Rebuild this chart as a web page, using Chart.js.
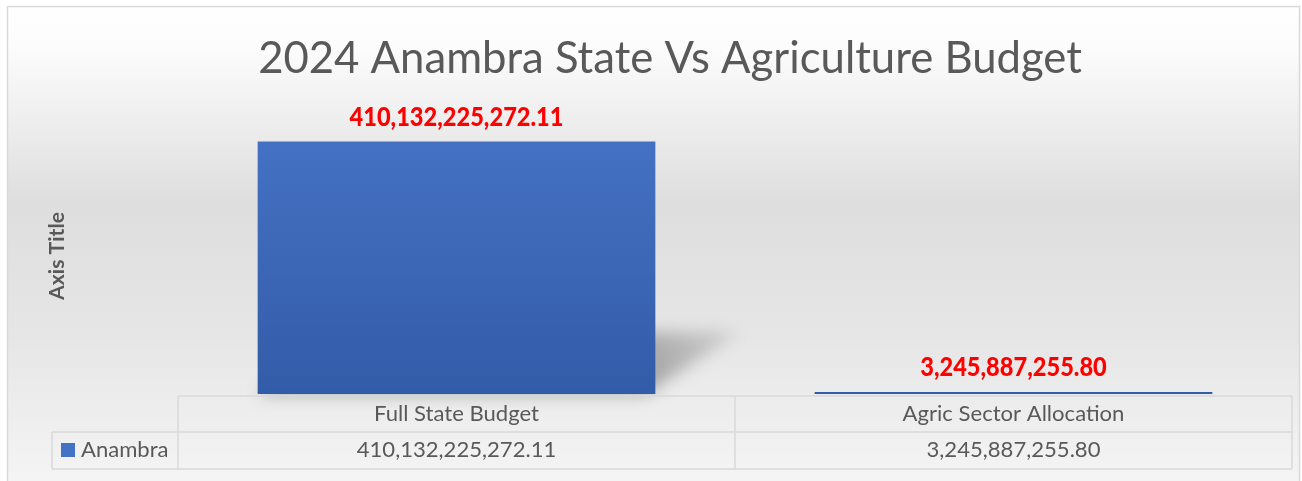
<!DOCTYPE html>
<html><head><meta charset="utf-8">
<script src="https://cdn.jsdelivr.net/npm/chart.js@4/dist/chart.umd.min.js"></script>
<style>html,body{margin:0;padding:0;background:#fff;}#wrap{width:1302px;height:481px;position:relative;}</style>
</head><body><div id="wrap"><canvas id="c" width="1302" height="481"></canvas></div>
<script>
const categories = ["Full State Budget", "Agric Sector Allocation"];
const seriesName = "Anambra";
const anambraValues = [410132225272.11, 3245887255.80];
const valueLabels = ["410,132,225,272.11", "3,245,887,255.80"];
const chartTitle = "2024 Anambra State Vs Agriculture Budget";
const yAxisTitle = "Axis Title";

const FONT = "Lato, 'Noto Sans', sans-serif";
function fitFont(ctx, text, width, weight) {
  let size = 20;
  ctx.font = weight + " " + size + "px " + FONT;
  const w = ctx.measureText(text).width;
  size = size * width / w;
  return weight + " " + size.toFixed(2) + "px " + FONT;
}

const decor = {
  id: "decor",
  beforeDraw(chart) {
    const ctx = chart.ctx;
    const H = chart.height, W = chart.width;
    const g = ctx.createLinearGradient(0, 0, 0, H);
    g.addColorStop(0, "#ffffff");
    g.addColorStop(0.1, "#fcfcfc");
    g.addColorStop(0.42, "#dedede");
    g.addColorStop(0.7, "#e6e6e6");
    g.addColorStop(1, "#f4f4f4");
    ctx.save();
    ctx.fillStyle = "#ffffff";
    ctx.fillRect(0, 0, W, H);
    ctx.fillStyle = g;
    ctx.fillRect(7, 6, W - 9, H - 6);
    ctx.strokeStyle = "#d9d9d9";
    ctx.lineWidth = 1.5;
    ctx.strokeRect(7.5, 6.5, W - 10, H + 10);
    ctx.restore();
  },
  beforeDatasetsDraw(chart) {
    const ctx = chart.ctx;
    const bar = chart.getDatasetMeta(0).data[0];
    const left = bar.x - bar.width / 2, right = bar.x + bar.width / 2;
    const base = bar.base;
    ctx.save();
    ctx.filter = "blur(8px)";
    const sg = ctx.createLinearGradient(right, base, right + 80, base - 60);
    sg.addColorStop(0, "rgba(0,0,0,0.30)");
    sg.addColorStop(1, "rgba(0,0,0,0.10)");
    ctx.fillStyle = sg;
    ctx.beginPath();
    ctx.moveTo(left, base);
    ctx.lineTo(right - 10, base);
    ctx.lineTo(right + 84, base - 62);
    ctx.lineTo(left + 84, base - 62);
    ctx.closePath();
    ctx.fill();
    ctx.restore();
  },
  afterDraw(chart) {
    const ctx = chart.ctx;
    const ca = chart.chartArea;
    const xs = chart.scales.x;
    ctx.save();
    ctx.fillStyle = "#595959";
    ctx.textAlign = "center";
    ctx.textBaseline = "alphabetic";
    ctx.font = fitFont(ctx, chartTitle, 824, "normal");
    ctx.fillText(chartTitle, 670, 73);
    ctx.save();
    ctx.translate(64, 256);
    ctx.rotate(-Math.PI / 2);
    ctx.font = fitFont(ctx, yAxisTitle, 88, "bold");
    ctx.fillText(yAxisTitle, 0, 0);
    ctx.restore();
    // data labels: Calibri-like proportions (tall, condensed, heavy)
    const meta = chart.getDatasetMeta(0);
    ctx.fillStyle = "#ff0000";
    ctx.font = "900 27px " + FONT;
    const refW = ctx.measureText(valueLabels[0]).width;
    const sx = 214 / refW;
    meta.data.forEach((b, i) => {
      ctx.save();
      ctx.translate(b.x, b.y - 16);
      ctx.scale(sx, 1);
      ctx.fillText(valueLabels[i], 0, 0);
      ctx.restore();
    });
    // data table
    const cw = (xs.getPixelForValue(1) - xs.getPixelForValue(0));
    const x0 = ca.left, x1 = ca.left + cw, x2 = ca.right;
    const yTop = ca.bottom + 2, yMid = ca.bottom + 38, yBot = ca.bottom + 75;
    const xLeg = 52;
    ctx.strokeStyle = "#d9d9d9";
    ctx.lineWidth = 1.5;
    ctx.beginPath();
    ctx.moveTo(x0, yTop); ctx.lineTo(x2, yTop);
    ctx.moveTo(xLeg, yMid); ctx.lineTo(x2, yMid);
    ctx.moveTo(xLeg, yBot); ctx.lineTo(x2, yBot);
    ctx.moveTo(x0, yTop); ctx.lineTo(x0, yBot);
    ctx.moveTo(x1, yTop); ctx.lineTo(x1, yBot);
    ctx.moveTo(x2, yTop); ctx.lineTo(x2, yBot);
    ctx.moveTo(xLeg, yMid); ctx.lineTo(xLeg, yBot);
    ctx.stroke();
    ctx.fillStyle = "#595959";
    ctx.font = fitFont(ctx, categories[0], 165, "normal");
    categories.forEach((c, i) => {
      const cx = xs.getPixelForValue(i);
      ctx.fillText(c, cx, yTop + 25);
      ctx.fillText(valueLabels[i], cx, yMid + 25);
    });
    ctx.fillStyle = "#4472c4";
    ctx.fillRect(61, yMid + 11, 14, 14);
    ctx.fillStyle = "#595959";
    ctx.textAlign = "left";
    ctx.fillText(seriesName, 81, yMid + 25);
    ctx.restore();
  }
};

const ctx = document.getElementById("c").getContext("2d");
new Chart(ctx, {
  type: "bar",
  data: {
    labels: categories,
    datasets: [{
      label: seriesName,
      data: anambraValues,
      backgroundColor: (c) => {
        const ca = c.chart.chartArea;
        if (!ca) return "#4472c4";
        const g = c.chart.ctx.createLinearGradient(0, ca.top, 0, ca.bottom);
        g.addColorStop(0, "#4673c6");
        g.addColorStop(1, "#335ca8");
        return g;
      },
      borderWidth: 0,
      barPercentage: 0.714,
      categoryPercentage: 1.0
    }]
  },
  options: {
    responsive: false,
    animation: false,
    layout: { padding: { left: 178, right: 10, top: 117, bottom: 87 } },
    plugins: { legend: { display: false }, title: { display: false }, tooltip: { enabled: false } },
    scales: {
      x: { display: false, offset: true },
      y: { display: false, min: 0, max: 450000000000 }
    }
  },
  plugins: [decor]
});
</script></body></html>
